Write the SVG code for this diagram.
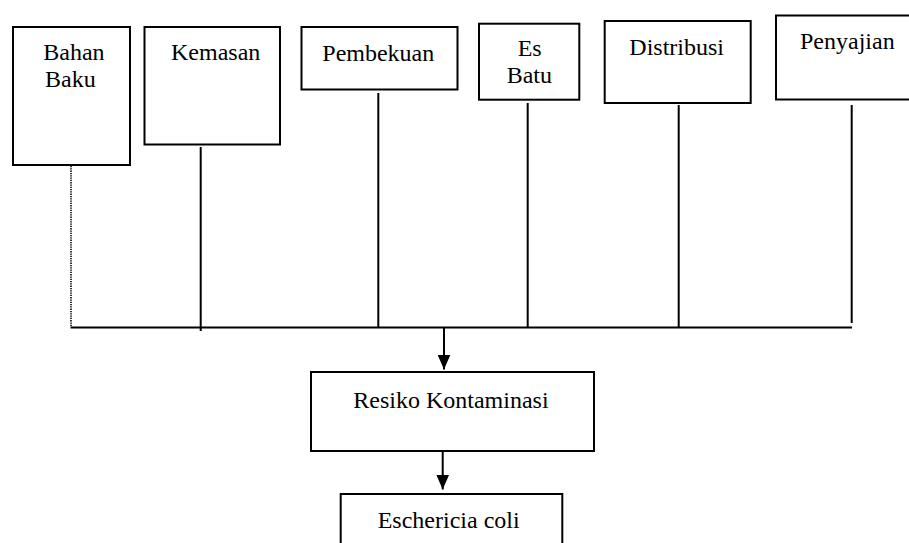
<svg xmlns="http://www.w3.org/2000/svg" width="909" height="543" viewBox="0 0 909 543">
  <defs>
    <style>
      .box { fill: #fff; stroke: #000; stroke-width: 2; }
      .lbl { font-family: "Liberation Serif", "Times New Roman", serif; font-size: 24px; fill: #000; }
      .wire { stroke: #000; stroke-width: 2; fill: none; }
      .dot { stroke: #000; stroke-width: 1.6; fill: none; stroke-dasharray: 1.3 1; }
    </style>
    <marker id="arrow" viewBox="0 0 15 13" refX="15" refY="6.5" markerWidth="15" markerHeight="13" markerUnits="userSpaceOnUse" orient="auto">
      <path d="M0,0 L15,6.5 L0,13 Z" fill="#000"/>
    </marker>
  </defs>
  <rect width="909" height="543" fill="#fff"/>

  <!-- source factors -->
  <g id="bahan-baku">
    <rect class="box" x="13" y="27" width="117" height="138"/>
    <text class="lbl" x="43.3" y="60">Bahan</text>
    <text class="lbl" x="45" y="87">Baku</text>
  </g>
  <g id="kemasan">
    <rect class="box" x="144.5" y="27" width="135.5" height="117.5"/>
    <text class="lbl" x="171" y="60">Kemasan</text>
  </g>
  <g id="pembekuan">
    <rect class="box" x="301.5" y="27" width="156" height="62.5"/>
    <text class="lbl" x="322.3" y="61">Pembekuan</text>
  </g>
  <g id="es-batu">
    <rect class="box" x="479" y="23.7" width="100.3" height="76"/>
    <text class="lbl" x="517.7" y="56">Es</text>
    <text class="lbl" x="506.7" y="83">Batu</text>
  </g>
  <g id="distribusi">
    <rect class="box" x="604.7" y="21" width="146" height="82"/>
    <text class="lbl" x="629.3" y="55">Distribusi</text>
  </g>
  <g id="penyajian">
    <rect class="box" x="776" y="15.5" width="150" height="84"/>
    <text class="lbl" x="800" y="49.3">Penyajian</text>
  </g>

  <!-- outcomes -->
  <g id="resiko-kontaminasi">
    <rect class="box" x="311" y="372" width="283" height="79"/>
    <text class="lbl" x="353.3" y="408.3">Resiko Kontaminasi</text>
  </g>
  <g id="eschericia-coli">
    <rect class="box" x="340.7" y="494" width="221.6" height="60"/>
    <text class="lbl" x="377.7" y="528.3">Eschericia coli</text>
  </g>

  <!-- connectors -->
  <g id="connectors">
    <line class="dot" x1="71" y1="166" x2="71" y2="327"/>
    <line class="wire" x1="200.7" y1="147" x2="200.7" y2="331"/>
    <line class="wire" x1="378.3" y1="93" x2="378.3" y2="327"/>
    <line class="wire" x1="527.7" y1="103" x2="527.7" y2="327"/>
    <line class="wire" x1="678.7" y1="105" x2="678.7" y2="327"/>
    <line class="wire" x1="851.7" y1="105" x2="851.7" y2="323"/>
    <line class="wire" x1="70.5" y1="327.5" x2="852" y2="327.5"/>
    <line class="wire" x1="444" y1="328" x2="444" y2="369.5" marker-end="url(#arrow)"/>
    <line class="wire" x1="442.7" y1="451" x2="442.7" y2="489.5" marker-end="url(#arrow)"/>
  </g>
</svg>
